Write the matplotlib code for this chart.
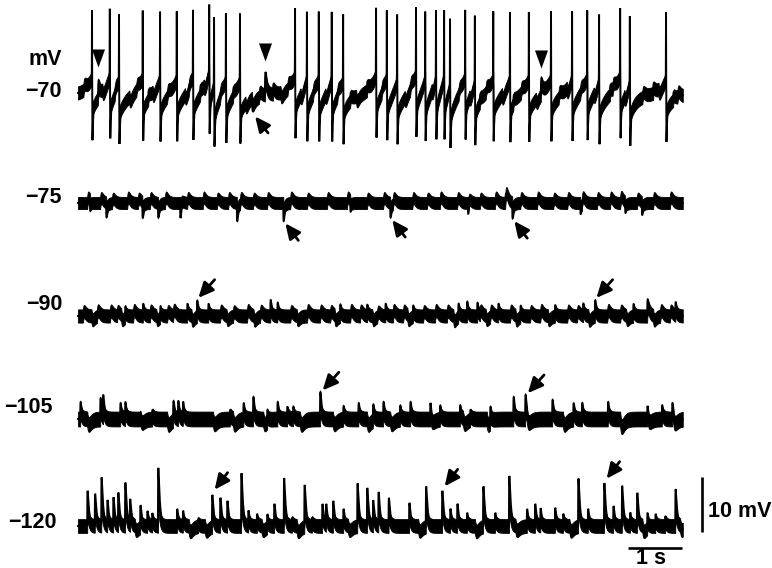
import numpy as np
import matplotlib
matplotlib.use('Agg')
import matplotlib.pyplot as plt

plt.rcParams['font.family'] = ['Liberation Sans', 'DejaVu Sans']

# ---------------- data (time in s, amplitude in mV relative to rest) ----------------
holding_labels = ['−70', '−75', '−90', '−105', '−120']
duration_s = 11.2
scale_mv = 10
scale_s = 1

# trace at -70 mV: action potentials
spikes_70 = [0.26, 0.59, 0.76, 1.20, 1.52, 1.83, 2.13, 2.43, 2.52, 2.74, 3.00,
             4.02, 4.24, 4.46, 4.70, 4.91, 5.52, 5.72, 5.91, 6.26, 6.43, 6.63,
             6.78, 6.89, 7.17, 7.35, 7.69, 8.00, 8.35, 8.76, 9.15, 9.43, 9.65,
             10.04, 10.22, 10.89]
spike_peak_70 = 15.5
spike_trough_70 = -8.7
epsp_t_70 = [0.37, 3.46, 8.57, 1.30, 2.26, 2.87, 3.61, 5.04, 5.35, 7.44, 8.06, 9.85, 10.65, 11.02]
epsp_a_70 = [3.1, 4.2, 3.0, 1.6, 1.5, 1.4, 1.8, 1.5, 1.6, 1.4, 1.5, 1.6, 1.8, 1.5]
ripple_t_70 = [0.10, 0.45, 0.68, 0.95, 1.08, 1.38, 1.65, 1.98, 2.05, 2.33, 2.63, 3.10,
               3.35, 3.75, 3.88, 4.12, 4.35, 4.58, 4.80, 5.15, 5.62, 6.05, 6.15, 6.55,
               7.05, 7.25, 7.55, 7.85, 8.20, 8.48, 8.90, 9.05, 9.30, 9.55, 9.90, 10.12,
               10.45, 10.75, 11.10]
ripple_a_70 = [0.9, -0.8, 0.9, -0.9, 0.8, -0.8, 0.9, -0.9, 0.8, -0.8, 0.9, -0.9,
               0.8, -0.8, 0.9, -0.9, 0.8, -0.8, 0.9, -0.9, 0.8, -0.8, 0.9, -0.9,
               0.8, -0.8, 0.9, -0.9, 0.8, -0.8, 0.9, -0.9, 0.8, -0.8, 0.9, -0.9,
               0.8, -0.8, 0.9]
ipsp_t_70 = [3.22]
ipsp_a_70 = [2.5]
marked_70 = [0.37, 3.46, 8.57]
arrow_70 = [3.22]

# trace at -75 mV: hyperpolarising events
ipsp_t_75 = [0.22, 0.52, 1.19, 1.48, 1.89, 2.94, 3.80, 5.04, 5.78, 7.22, 8.04, 9.30, 10.13, 10.44]
ipsp_a_75 = [2.0, 2.7, 2.9, 2.7, 3.3, 3.3, 3.3, 2.0, 2.7, 2.7, 2.9, 2.0, 2.0, 2.3]
ripple_t_75 = [0.17, 0.41, 0.63, 0.91, 1.11, 1.33, 1.61, 1.89, 2.02, 2.31, 2.57, 2.78,
               3.00, 3.24, 3.50, 3.93, 4.24, 4.61, 4.98, 5.35, 5.65, 5.83, 6.19, 6.46,
               6.70, 7.02, 7.22, 7.44, 7.72, 7.91, 8.19, 8.50, 8.80, 9.06, 9.33, 9.61,
               9.85, 10.04, 10.35, 10.65, 10.96]
ripple_a_75 = [1.0, 0.9, 0.8, 1.0, 0.8, 0.9, 1.0, 0.8, 0.9, 1.0, 0.8, 0.9,
               1.0, 0.8, 0.9, 1.0, 0.8, 0.9, 1.0, 0.8, 0.9, 1.0, 0.9, 0.8,
               1.0, 0.9, 1.1, 0.8, 1.0, 1.8, 0.9, 1.0, 0.8, 0.9, 1.2, 0.9,
               1.0, 1.1, 0.8, 0.9, 1.0]
arrow_75 = [3.80, 5.78, 8.04]

# trace at -90 mV: depolarising events
epsp_t_90 = [0.87, 1.20, 1.52, 2.02, 2.20, 2.41, 3.56, 3.69, 4.85, 5.35, 5.69, 6.20,
             7.04, 7.20, 7.39, 7.78, 8.19, 8.83, 9.35, 9.57, 10.28, 10.54, 11.06]
epsp_a_90 = [2.0, 2.2, 2.0, 2.2, 2.9, 2.2, 2.9, 2.4, 2.2, 2.0, 2.2, 2.0,
             2.4, 2.6, 2.4, 2.2, 2.0, 2.0, 2.2, 2.9, 2.2, 2.4, 2.4]
ripple_t_90 = [0.09, 0.35, 0.59, 0.72, 1.02, 1.33, 1.65, 1.76, 2.63, 2.87, 3.13, 3.37,
               3.93, 4.24, 4.48, 4.67, 5.04, 5.22, 5.54, 5.83, 6.02, 6.39, 6.61, 6.83,
               7.44, 7.63, 8.00, 8.37, 8.56, 9.06, 9.24, 9.80, 10.04, 10.54, 10.78, 10.96]
ripple_a_90 = [0.8, 1.0, 0.9, 0.8, 1.0, 0.9, 0.8, 1.0, 0.9, 0.8, 1.0, 0.9,
               0.8, 1.0, 0.9, 0.8, 1.0, 0.9, 0.8, 1.0, 0.9, 0.8, 1.0, 0.9,
               0.8, 1.0, 0.9, 0.8, 1.0, 0.9, 0.8, 1.0, 0.9, 0.8, 1.0, 0.9]
dip_t_90 = [0.25, 0.80, 1.45, 2.10, 2.75, 3.25, 4.05, 4.75, 5.45, 6.10, 6.95, 7.55,
            8.10, 8.70, 9.45, 10.15, 10.65]
dip_a_90 = [0.7, 0.8, 0.7, 0.8, 0.7, 0.8, 0.7, 0.8, 0.7, 0.8, 0.9, 0.7,
            0.8, 0.7, 0.8, 0.7, 0.8]
arrow_90 = [2.20, 9.57]

# trace at -105 mV
epsp_t_105 = [0.04, 0.41, 0.46, 0.78, 0.87, 1.15, 1.37, 1.76, 1.85, 1.94, 2.81, 3.06,
              3.24, 3.50, 3.69, 3.87, 3.98, 4.48, 4.91, 5.19, 5.46, 5.65, 5.96, 6.15,
              6.52, 6.70, 7.07, 7.26, 7.63, 8.06, 8.28, 8.78, 9.17, 9.33, 9.81, 10.54,
              10.81, 11.00]
epsp_a_105 = [3.1, 3.8, 3.5, 2.9, 2.9, 1.6, 1.6, 3.5, 3.1, 2.9, 1.6, 2.9,
              4.0, 2.2, 3.1, 2.2, 2.2, 4.9, 2.4, 2.9, 2.9, 3.1, 2.5, 3.1,
              3.5, 2.5, 2.5, 1.8, 2.9, 4.0, 4.4, 3.5, 2.9, 2.9, 3.1, 2.9,
              2.5, 2.9]
dip_t_105 = [0.17, 1.15, 1.65, 2.50, 2.87, 3.43, 4.11, 4.72, 5.35, 5.78, 6.52, 7.13,
             7.57, 8.31, 8.98, 10.04, 10.54, 11.02]
dip_a_105 = [1.0, 0.9, 1.0, 0.9, 1.0, 0.9, 1.0, 0.9, 1.0, 0.9, 1.0, 0.9,
             1.0, 0.9, 1.0, 1.4, 0.9, 1.0]
arrow_105 = [4.48, 8.28]

# trace at -120 mV
epsp_t_120 = [0.17, 0.31, 0.43, 0.54, 0.65, 0.74, 0.87, 0.96, 1.15, 1.28, 1.37, 1.48,
              1.83, 1.94, 2.22, 2.48, 2.63, 2.76, 3.02, 3.15, 3.31, 3.50, 3.63, 3.81,
              3.96, 4.19, 4.33, 4.52, 4.59, 4.72, 4.91, 5.17, 5.35, 5.46, 5.56, 5.75,
              6.13, 6.44, 6.74, 6.89, 7.02, 7.20, 7.50, 7.72, 7.98, 8.31, 8.46, 8.56,
              8.83, 8.98, 9.26, 9.44, 9.74, 9.91, 10.07, 10.22, 10.35, 10.54, 10.69,
              10.87, 11.06]
epsp_a_120 = [6.4, 5.8, 8.7, 4.5, 5.1, 5.8, 7.8, 4.5, 4.0, 2.7, 2.2, 10.5,
              3.1, 2.7, 1.3, 5.8, 5.1, 4.5, 9.6, 2.7, 2.2, 2.4, 4.0, 8.7,
              1.5, 7.6, 1.5, 4.0, 3.6, 4.5, 3.1, 7.8, 6.9, 4.5, 6.0, 5.1,
              4.2, 7.3, 6.4, 3.1, 4.0, 2.4, 7.3, 2.4, 9.1, 3.1, 4.0, 3.1,
              3.3, 2.2, 8.7, 3.1, 7.8, 3.6, 7.3, 2.4, 6.0, 2.7, 2.2,
              1.8, 6.7]
dip_t_120 = [1.05, 2.05, 2.35, 3.40, 4.05, 5.00, 6.30, 7.35, 8.10, 9.10, 10.45, 11.15]
dip_a_120 = [0.8, 1.0, 0.9, 0.8, 1.0, 0.8, 0.9, 1.0, 0.8, 0.9, 1.0, 0.8]
arrow_120 = [2.48, 6.74, 9.74]

# ---------------- layout ----------------
PX_PER_S = 54.0
PX_PER_MV = 5.5
W, H = 772, 568
X0 = 78.0
offsets = [-95.0 / PX_PER_MV, -203.0 / PX_PER_MV, -316.0 / PX_PER_MV,
           -419.0 / PX_PER_MV, -526.0 / PX_PER_MV]
band_half = [1.2, 1.1, 1.2, 1.35, 1.25]
label_x = [-0.296, -0.296, -0.296, -0.463, -0.389]
label_dy = [-0.4, 0.0, 1.1, 1.1, -0.4]
RIP_RISE, RIP_DECAY = 0.018, 0.03

t = np.arange(0.0, duration_s, 0.0005)


def psp(t0, amp, rise, decay):
    s = np.clip(t - t0, 0, None)
    shape = np.exp(-s / decay) - np.exp(-s / rise)
    tp = rise * decay / (decay - rise) * np.log(decay / rise)
    peak = np.exp(-tp / decay) - np.exp(-tp / rise)
    return amp * shape / peak


def psp_sum(times, amps, rise, decay):
    out = np.zeros_like(t)
    for t0, a in zip(times, amps):
        out += psp(t0, a, rise, decay)
    return out


fig = plt.figure(figsize=(W / 100, H / 100), dpi=100)
ax = fig.add_axes([0, 0, 1, 1])
ax.set_xlim(-X0 / PX_PER_S, (W - X0) / PX_PER_S)
ax.set_ylim(-H / PX_PER_MV, 0)
ax.axis('off')

LW = 1.4


def draw_trace(i, slow, fast):
    off = offsets[i]
    w = band_half[i]
    ax.fill_between(t, off + slow - w, off + slow + w, color='k', lw=0.6, edgecolor='k')
    ax.plot(t, off + slow + fast, color='k', lw=LW, solid_joinstyle='miter')


def arrow(tip, dx, dy):
    ax.annotate('', xy=tip, xytext=(tip[0] + dx, tip[1] + dy),
                arrowprops=dict(arrowstyle='-|>,head_length=0.65,head_width=0.3',
                                color='k', lw=2.0, shrinkA=0, shrinkB=0,
                                mutation_scale=14))


# --- trace 1: -70 mV with spikes
PRE = 3.0
slow1 = np.zeros_like(t)
fast1 = np.zeros_like(t)
for ts in spikes_70:
    s = t - ts
    slow1 += np.where(s < 0, PRE * np.exp(np.clip(s, -50, 0) / 0.12),
                      -PRE * np.exp(-np.clip(s, 0, None) / 0.12))
for ts in spikes_70:
    s = t - ts
    fast1 += (spike_peak_70 - PRE) * np.exp(-(s / 0.003) ** 2)
    sd = s - 0.008
    fast1 -= (-spike_trough_70 - PRE) * np.where(sd < 0, np.exp(-(sd / 0.003) ** 2),
                                                 np.exp(-np.clip(sd, 0, None) / 0.012))
e1 = psp_sum(epsp_t_70, epsp_a_70, 0.006, 0.04) - psp_sum(ipsp_t_70, ipsp_a_70, 0.01, 0.06)
r1 = psp_sum(ripple_t_70, ripple_a_70, RIP_RISE, RIP_DECAY)
draw_trace(0, slow1 + 0.5 * e1 + r1, fast1 + 0.5 * e1)
tri = [(-0.36, 0.5), (0.36, 0.5), (0.0, -0.5), (-0.36, 0.5)]
for tm in marked_70:
    a = epsp_a_70[epsp_t_70.index(tm)]
    ax.plot([tm], [offsets[0] + a + 3.6], marker=tri, ms=13, color='k', mew=0, ls='none')
for tm in arrow_70:
    a = ipsp_a_70[ipsp_t_70.index(tm)]
    arrow((tm + 0.06, offsets[0] - a - 1.4), 0.24, -3.0)

# --- trace 2: -75 mV
e2 = -psp_sum(ipsp_t_75, ipsp_a_75, 0.004, 0.03)
r2 = psp_sum(ripple_t_75, ripple_a_75, RIP_RISE, RIP_DECAY)
draw_trace(1, 0.3 * e2 + r2, 0.7 * e2)
for tm in arrow_75:
    a = ipsp_a_75[ipsp_t_75.index(tm)]
    arrow((tm + 0.04, offsets[1] - a - 0.4), 0.24, -3.1)

# --- trace 3: -90 mV
e3 = psp_sum(epsp_t_90, epsp_a_90, 0.004, 0.03)
r3 = (psp_sum(ripple_t_90, ripple_a_90, RIP_RISE, RIP_DECAY)
      - psp_sum(dip_t_90, dip_a_90, RIP_RISE, RIP_DECAY))
draw_trace(2, 0.35 * e3 + r3, 0.65 * e3)
for tm in arrow_90:
    a = epsp_a_90[epsp_t_90.index(tm)]
    arrow((tm + 0.03, offsets[2] + a + 0.4), 0.3, 3.3)

# --- trace 4: -105 mV
e4 = psp_sum(epsp_t_105, epsp_a_105, 0.004, 0.03)
r4 = -psp_sum(dip_t_105, dip_a_105, 0.025, 0.04)
draw_trace(3, 0.35 * e4 + r4, 0.65 * e4)
for tm in arrow_105:
    a = epsp_a_105[epsp_t_105.index(tm)]
    arrow((tm + 0.05, offsets[3] + a + 0.3), 0.3, 3.3)

# --- trace 5: -120 mV
e5 = psp_sum(epsp_t_120, epsp_a_120, 0.003, 0.03)
r5 = -psp_sum(dip_t_120, dip_a_120, 0.025, 0.04)
draw_trace(4, 0.35 * e5 + r5, 0.65 * e5)
for tm in arrow_120:
    a = epsp_a_120[epsp_t_120.index(tm)]
    arrow((tm + 0.05, offsets[4] + a + 0.8), 0.24, 3.1)

# --- labels
FS = 15.5
ax.text(label_x[0], offsets[0] + 5.45, 'mV', ha='right', va='baseline',
        fontsize=FS, fontweight='bold')
for i, lab in enumerate(holding_labels):
    ax.text(label_x[i], offsets[i] + label_dy[i], lab, ha='right', va='baseline',
            fontsize=FS, fontweight='bold')

# --- scale bars
xb = duration_s + 0.36
yb0 = offsets[4] - 1.0
ax.plot([xb, xb], [yb0, yb0 + scale_mv], color='k', lw=1.9, solid_capstyle='butt')
ax.text(xb + 0.11, yb0 + 2.55, f'{scale_mv} mV', ha='left', va='baseline',
        fontsize=FS, fontweight='bold')
xh1 = duration_s - 0.015
yh = offsets[4] - 4.0
ax.plot([xh1 - scale_s, xh1], [yh, yh], color='k', lw=1.9, solid_capstyle='butt')
ax.text(xh1 - scale_s / 2 - 0.08, yh - 2.9, f'{scale_s} s', ha='center', va='baseline',
        fontsize=FS, fontweight='bold')

fig.savefig('out.png', dpi=100, facecolor='white')
